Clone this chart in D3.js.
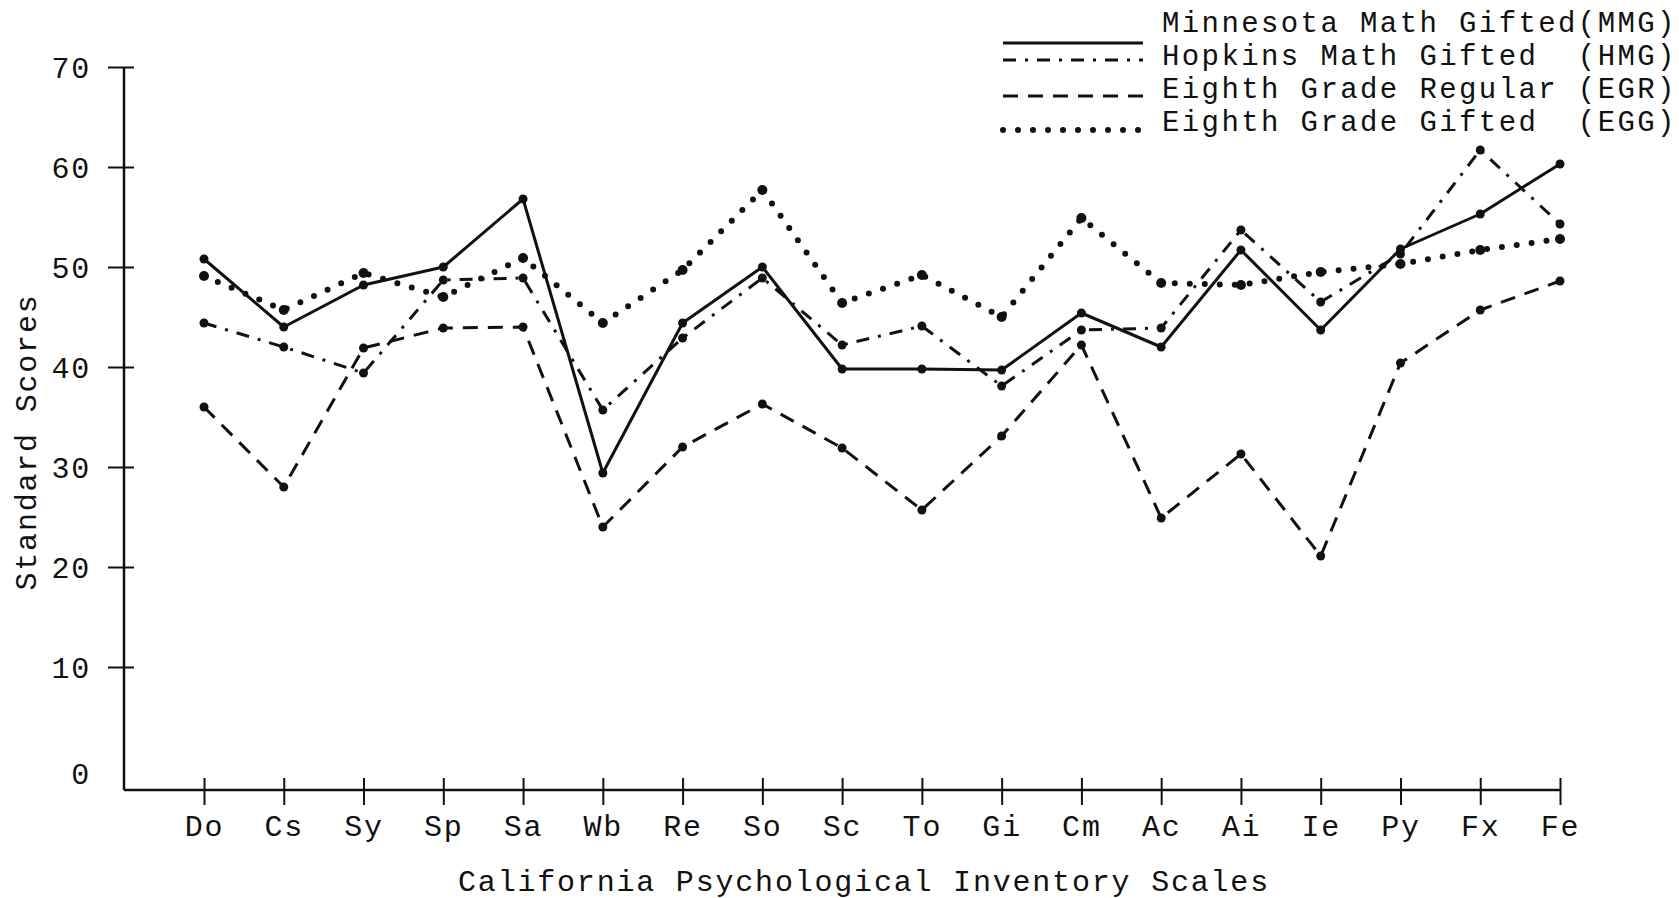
<!DOCTYPE html>
<html lang="en">
<head>
    <meta charset="utf-8">
    <title>California Psychological Inventory Scales</title>
    <script src="https://cdn.jsdelivr.net/npm/d3@7/dist/d3.min.js"></script>
    <style>
        body { margin: 0; background: #fff; }
        text { font-family: "Liberation Mono", "DejaVu Sans Mono", monospace; fill: #111; }
    </style>
</head>
<body>
</body>
</html>
<script>
    // scales on the x axis
    var categories = ["Do", "Cs", "Sy", "Sp", "Sa", "Wb", "Re", "So", "Sc", "To",
        "Gi", "Cm", "Ac", "Ai", "Ie", "Py", "Fx", "Fe"];

    // standard scores
    var mmg = [50.8, 44.0, 48.2, 50.0, 56.8, 29.4, 44.4, 50.0, 39.8, 39.8,
        39.7, 45.4, 42.0, 51.7, 43.7, 51.8, 55.3, 60.3];
    var hmg = [44.4, 42.0, 39.4, 48.7, 48.9, 35.7, 42.9, 48.9, 42.2, 44.1,
        38.1, 43.7, 43.9, 53.7, 46.5, 51.3, 61.7, 54.3];
    var egr = [36.0, 28.0, 41.9, 43.9, 44.0, 24.0, 32.0, 36.3, 31.9, 25.7,
        33.1, 42.2, 24.9, 31.3, 21.1, 40.4, 45.7, 48.6];
    var egg = [49.1, 45.7, 49.4, 47.0, 50.9, 44.4, 49.7, 57.7, 46.4, 49.2,
        45.0, 54.9, 48.4, 48.2, 49.5, 50.3, 51.7, 52.8];

    var yTicks = [0, 10, 20, 30, 40, 50, 60, 70];

    var seriesNames = ["Minnesota Math Gifted(MMG)", "Hopkins Math Gifted  (HMG)",
        "Eighth Grade Regular (EGR)", "Eighth Grade Gifted  (EGG)"];

    // line styles: solid, dash-dot, dashed, dotted
    var series = [
        {name: seriesNames[0], values: mmg, dash: null, width: 3, cap: "butt", r: 4.5},
        {name: seriesNames[1], values: hmg, dash: "13,9,3,9", width: 3, cap: "butt", r: 4.5},
        {name: seriesNames[2], values: egr, dash: "15,10", width: 3, cap: "butt", r: 4.5},
        {name: seriesNames[3], values: egg, dash: "0,15", width: 6, cap: "round", r: 5}
    ];

    var width = 1679;
    var height = 898;
    var svg = d3.select("body")
            .append("svg")
            .attr("width", width)
            .attr("height", height);

    var x = d3.scalePoint()
            .domain(categories)
            .range([204, 1560]);
    var y = d3.scaleLinear()
            .domain([0, 70])
            .range([767, 67]);

    var axisX0 = 124;   // y axis position
    var axisY0 = 790;   // x axis position, sits a little below zero

    // typewriter look: smaller glyphs, wider spacing
    function typeface(sel, size) {
        sel.style("font-size", size + "px")
           .style("letter-spacing", (19.8 - 0.6 * size) + "px");
    }

    // y axis
    var gy = svg.append("g")
            .attr("transform", "translate(" + axisX0 + ",0)")
            .call(d3.axisLeft(y).tickValues(yTicks).tickSize(16).tickPadding(17));
    gy.select(".domain").remove();
    gy.selectAll(".tick line")
            .attr("x2", 10)
            .attr("x1", -16)
            .attr("stroke", "#111")
            .attr("stroke-width", 2)
            .filter(function (d) { return d === 0; })
            .remove();
    gy.selectAll(".tick text")
            .call(typeface, 30)
            .attr("dy", "0.35em");
    gy.selectAll(".tick")
            .filter(function (d) { return d === 0; })
            .select("text")
            .attr("dy", "0.55em");
    svg.append("line")
            .attr("x1", axisX0).attr("x2", axisX0)
            .attr("y1", y(70)).attr("y2", axisY0)
            .attr("stroke", "#111")
            .attr("stroke-width", 2.5);

    // x axis
    var gx = svg.append("g")
            .attr("transform", "translate(0," + axisY0 + ")")
            .call(d3.axisBottom(x).tickSize(15).tickPadding(10));
    gx.select(".domain").remove();
    gx.selectAll(".tick line")
            .attr("y1", -12)
            .attr("stroke", "#111")
            .attr("stroke-width", 2);
    gx.selectAll(".tick text")
            .call(typeface, 30);
    svg.append("line")
            .attr("x1", axisX0).attr("x2", x(categories[categories.length - 1]))
            .attr("y1", axisY0).attr("y2", axisY0)
            .attr("stroke", "#111")
            .attr("stroke-width", 2.5);

    // axis titles
    svg.append("text")
            .attr("x", 864)
            .attr("y", 880)
            .attr("dy", "0.35em")
            .attr("text-anchor", "middle")
            .call(typeface, 30)
            .text("California Psychological Inventory Scales");
    svg.append("text")
            .attr("transform", "translate(25,442) rotate(-90)")
            .attr("dy", "0.35em")
            .attr("text-anchor", "middle")
            .call(typeface, 30)
            .text("Standard Scores");

    // lines
    var line = d3.line()
            .x(function (d, i) { return x(categories[i]); })
            .y(function (d) { return y(d); });

    var groups = svg.append("g")
            .selectAll("g")
            .data(series)
            .enter()
            .append("g");

    groups.append("path")
            .attr("d", function (d) { return line(d.values); })
            .attr("fill", "none")
            .attr("stroke", "#111")
            .attr("stroke-width", function (d) { return d.width; })
            .attr("stroke-linecap", function (d) { return d.cap; })
            .attr("stroke-linejoin", "round")
            .attr("stroke-dasharray", function (d) { return d.dash; });

    groups.selectAll("circle")
            .data(function (d) {
                return d.values.map(function (v, i) { return {v: v, i: i, r: d.r}; });
            })
            .enter()
            .append("circle")
            .attr("cx", function (d) { return x(categories[d.i]); })
            .attr("cy", function (d) { return y(d.v); })
            .attr("r", function (d) { return d.r; })
            .attr("fill", "#111");

    // legend
    var legendRowsY = [22, 55, 88, 121];
    var legendLineY = [43, 60, 96, 130];
    var legend = svg.append("g")
            .selectAll("g")
            .data(series)
            .enter()
            .append("g");
    legend.append("line")
            .attr("x1", 1003)
            .attr("x2", 1143)
            .attr("y1", function (d, i) { return legendLineY[i]; })
            .attr("y2", function (d, i) { return legendLineY[i]; })
            .attr("stroke", "#111")
            .attr("stroke-width", function (d) { return d.width; })
            .attr("stroke-linecap", function (d) { return d.cap; })
            .attr("stroke-dasharray", function (d) { return d.dash; });
    legend.append("text")
            .attr("x", 1162)
            .attr("y", function (d, i) { return legendRowsY[i]; })
            .attr("dy", "0.35em")
            .call(typeface, 29)
            .style("white-space", "pre")
            .attr("xml:space", "preserve")
            .text(function (d) { return d.name; });
</script>
